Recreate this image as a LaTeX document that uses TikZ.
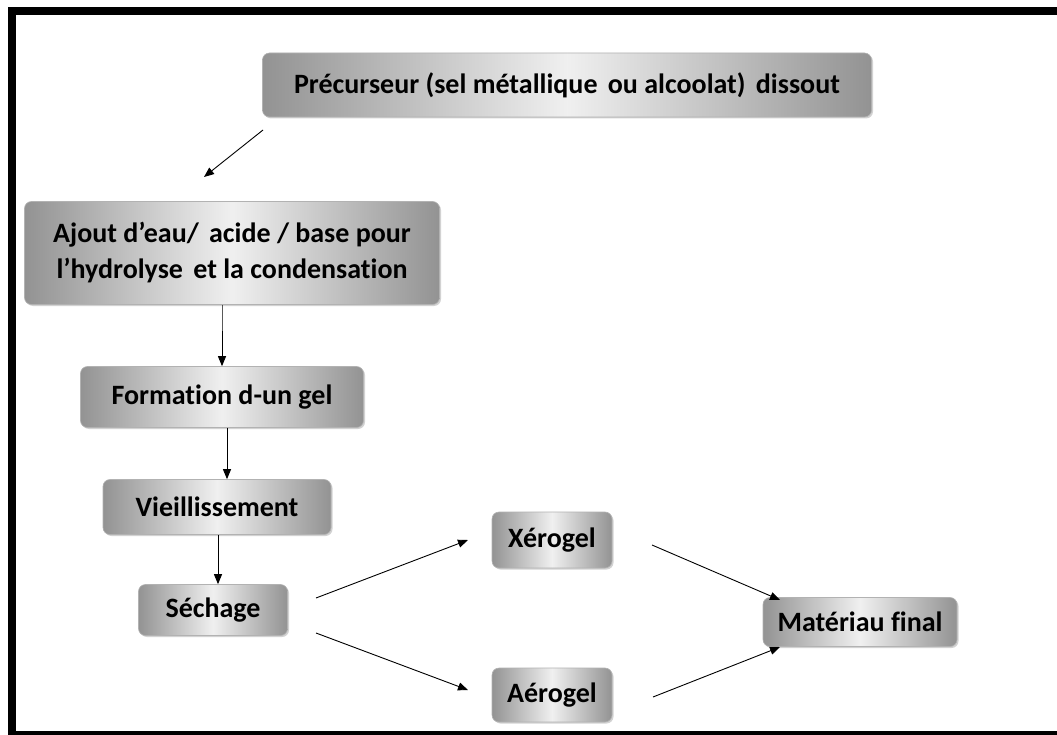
\documentclass[tikz,border=0pt]{standalone}
\usepackage{fontspec}
\setmainfont{Carlito}[Ligatures=NoCommon]
\usetikzlibrary{shadows,arrows.meta}
\begin{document}
\begin{tikzpicture}[x=1pt,y=-1pt,
  stepbox/.style={rounded corners=7pt, draw=gray!60, line width=0.6pt,
    left color=gray!85, right color=gray!85, middle color=gray!12,
    drop shadow={shadow xshift=1.5pt, shadow yshift=-1.5pt, opacity=0.35},
    font=\bfseries\fontsize{28}{36}\selectfont, text=black, align=center,
    inner sep=0pt},
  conn/.style={-{Triangle[length=10pt,width=8pt]}, line width=0.9pt, black}]
\useasboundingbox (0,0) rectangle (1057,735);
\fill[white] (0,0) rectangle (1057,735);
% frame
\draw[line width=8pt] (1070,11) -- (11.5,11) -- (11.5,735);
\fill[black] (11.5,731) rectangle (1057,735);
% nodes
\node[stepbox, minimum width=609pt, minimum height=64pt] (p) at (567,85) {Précurseur (sel métallique\hspace{4pt} ou alcoolat)\hspace{4pt} dissout};
\node[stepbox, minimum width=415pt, minimum height=103pt] (a) at (232,253) {Ajout d’eau/\hspace{4pt} acide / base pour\\ l’hydrolyse\hspace{4pt} et la condensation};
\node[stepbox, minimum width=283pt, minimum height=61pt] (f) at (222,397) {Formation d-un gel};
\node[stepbox, minimum width=228pt, minimum height=55pt] (v) at (217,507) {Vieillissement};
\node[stepbox, minimum width=149pt, minimum height=51pt] (s) at (213,610) {Séchage};
\node[stepbox, minimum width=120pt, minimum height=56pt] (x) at (552,540) {Xérogel};
\node[stepbox, minimum width=120pt, minimum height=54pt] (ae) at (552,695) {Aérogel};
\node[stepbox, minimum width=194pt, minimum height=49pt] (m) at (860,622) {Matériau final};
% connectors
\coordinate (p1) at (263,130); \coordinate (p2) at (204,177);
\draw[conn] (p1) -- (p2);
\draw[conn] (a.south -| 222,0) -- ++(0,2) -- (f.north -| 222,0);
\draw[conn] (f.south -| 227,0) -- (v.north -| 227,0);
\draw[conn] (v.south -| 218,0) -- (s.north -| 218,0);
\coordinate (s1) at (316,598); \coordinate (x1) at (468,540);
\coordinate (s2) at (316,633); \coordinate (ae1) at (468,690);
\coordinate (x2) at (652,545); \coordinate (m1) at (780,600);
\coordinate (ae2) at (653,697); \coordinate (m2) at (780,647);
\draw[conn] (s1) -- (x1);
\draw[conn] (s2) -- (ae1);
\draw[conn] (x2) -- (m1);
\draw[conn] (ae2) -- (m2);
\end{tikzpicture}
\end{document}
